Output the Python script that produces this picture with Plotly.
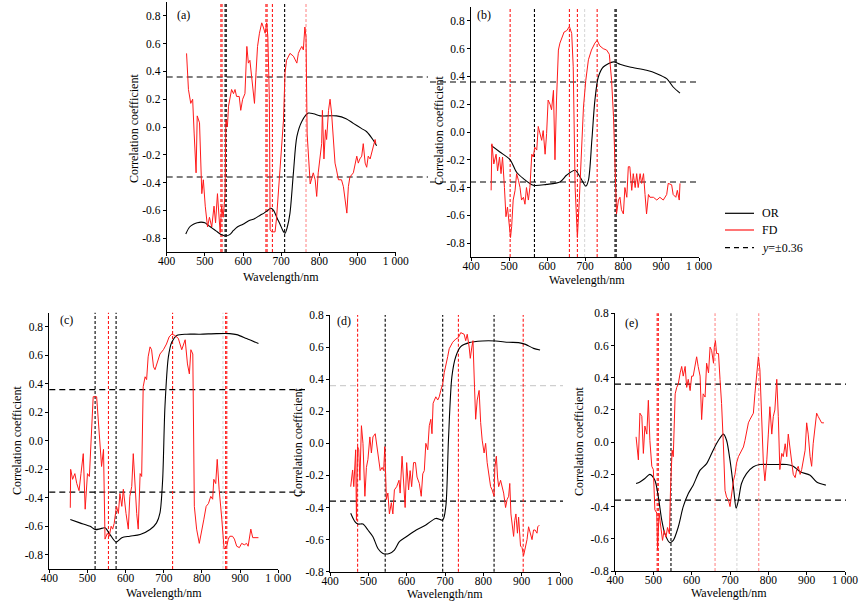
import plotly.graph_objects as go

# ---------------- data ----------------
threshold = 0.36
x_ticks = [400, 500, 600, 700, 800, 900, 1000]
x_ticktext = ["400", "500", "600", "700", "800", "900", "1 000"]
y_ticks = [-0.8, -0.6, -0.4, -0.2, 0.0, 0.2, 0.4, 0.6, 0.8]
y_ticktext = ["-0.8", "-0.6", "-0.4", "-0.2", "0.0", "0.2", "0.4", "0.6", "0.8"]
series_names = ["OR", "FD", "<i>y</i>=±0.36"]

# (a)
a_or_wl = [450, 460, 470, 480, 490, 500, 510, 520, 530, 540, 548, 555, 565, 575, 585, 600, 615, 630, 645, 655,
           665, 673, 680, 690, 697, 705, 710, 716, 723, 732, 741, 754, 771, 785, 802, 820, 845, 870, 889, 910,
           924, 940, 950]
a_or = [-0.77, -0.72, -0.70, -0.69, -0.685, -0.69, -0.71, -0.73, -0.75, -0.77, -0.78, -0.785, -0.775, -0.745,
        -0.72, -0.70, -0.675, -0.66, -0.635, -0.62, -0.60, -0.585, -0.60, -0.66, -0.70, -0.75, -0.765, -0.72,
        -0.62, -0.33, -0.07, 0.04, 0.10, 0.095, 0.08, 0.08, 0.08, 0.06, 0.026, -0.01, -0.034, -0.09, -0.135]
a_fd_wl = [452, 457, 463, 468, 472, 477, 480, 486, 492, 496, 501, 507, 512, 518, 524, 528, 533, 537, 540, 544,
           548, 553, 555, 559, 562, 570, 575, 579, 583, 590, 594, 599, 605, 610, 614, 618, 625, 630, 634, 638,
           643, 649, 653, 658, 662, 665, 669, 671, 675, 684, 688, 697, 706, 710, 714, 723, 732, 741, 745, 749,
           754, 758, 762, 765, 768, 776, 780, 784, 789, 793, 797, 802, 806, 808, 812, 816, 819, 824, 828, 832,
           837, 841, 845, 850, 858, 863, 872, 876, 880, 889, 898, 902, 906, 911, 915, 920, 924, 928, 933, 937,
           941, 946, 948]
a_fd = [0.53, 0.27, 0.17, 0.2, -0.05, -0.33, 0.08, 0.03, -0.48, -0.38,
        -0.57, -0.72, -0.65, -0.72, -0.57, -0.69, -0.48, -0.62, -0.76, -0.57,
        -0.65, -0.48, 0.05, 0.0, 0.15, 0.27, 0.24, 0.27, 0.22, 0.22,
        0.12, 0.2, 0.24, 0.58, 0.46, 0.48, 0.29, 0.17, 0.39, 0.58,
        0.675, 0.75, 0.72, 0.675, 0.75, 0.65, 0.2, -0.74, -0.755, -0.755,
        -0.65, -0.29, 0.05, 0.39, 0.48, 0.53, 0.51, 0.46, 0.53, 0.555,
        0.58, 0.555, 0.72, 0.65, -0.05, -0.41, -0.36, -0.33, -0.38, -0.5,
        -0.33, -0.21, -0.12, 0.12, -0.23, -0.02, -0.09, 0.12, 0.2, 0.1,
        -0.12, -0.26, -0.31, -0.38, -0.38, -0.43, -0.62, -0.43, -0.36, -0.33,
        -0.21, -0.26, -0.23, -0.21, -0.12, -0.26, -0.29, -0.21, -0.23, -0.19,
        -0.14, -0.09, -0.12]
a_red_bands = [542, 545, 660, 663, 677]
a_black_bands = [553, 556, 709]
a_pink_bands = [765]
a_gray_bands = []

# (b)
b_or_wl = [453, 476, 503, 520, 538, 564, 599, 634, 652, 674, 687, 702, 709, 718, 726, 735, 748, 775, 792, 818,
           862, 889, 915, 932, 950]
b_or = [-0.096, -0.144, -0.2, -0.29, -0.336, -0.384, -0.377, -0.36, -0.31, -0.276, -0.324, -0.39, -0.348,
        -0.06, 0.228, 0.396, 0.468, 0.505, 0.488, 0.468, 0.444, 0.42, 0.384, 0.324, 0.28]
b_fd_wl = [453, 455, 460, 466, 470, 475, 479, 483, 488, 492, 496, 500, 504, 507, 511, 516, 520, 525, 529, 533,
           538, 542, 546, 551, 555, 560, 564, 568, 573, 577, 582, 586, 590, 595, 599, 603, 608, 612, 617, 621,
           625, 630, 634, 639, 645, 652, 659, 665, 669, 674, 680, 685, 691, 696, 702, 709, 717, 726, 732, 739,
           748, 757, 764, 770, 775, 779, 783, 788, 792, 796, 801, 805, 810, 814, 818, 823, 827, 832, 836, 840,
           845, 849, 854, 858, 862, 867, 871, 880, 889, 897, 906, 915, 919, 928, 932, 939, 943, 948, 950]
b_fd = [-0.42, -0.085, -0.23, -0.16, -0.28, -0.18, -0.3, -0.18, -0.4, -0.61,
        -0.54, -0.64, -0.76, -0.68, -0.49, -0.42, -0.3, -0.35, -0.4, -0.49,
        -0.47, -0.52, -0.4, -0.49, -0.4, -0.16, -0.18, -0.11, -0.13, 0.04,
        -0.01, -0.06, 0.01, -0.16, -0.01, 0.23, 0.2, 0.16, 0.3, -0.2,
        0.23, 0.59, 0.64, 0.68, 0.72, 0.73, 0.76, 0.71, 0.47, -0.4,
        -0.76, -0.49, -0.13, 0.18, 0.37, 0.52, 0.59, 0.64, 0.66, 0.62,
        0.6, 0.59, 0.56, 0.37, 0.11, -0.25, -0.59, -0.49, -0.47, -0.56,
        -0.59, -0.4, -0.47, -0.25, -0.25, -0.42, -0.3, -0.4, -0.3, -0.4,
        -0.3, -0.37, -0.3, -0.45, -0.59, -0.45, -0.47, -0.47, -0.49, -0.47,
        -0.49, -0.45, -0.37, -0.38, -0.45, -0.47, -0.42, -0.49, -0.37]
b_red_bands = [503, 659, 680, 732]
b_black_bands = [567, 779, 782]
b_pink_bands = []
b_gray_bands = [699]

# (c)
c_or_wl = [455, 480, 507, 520, 533, 546, 559, 575, 590, 611, 638, 664, 681, 690, 697, 703, 712, 721, 734, 760,
           795, 838, 873, 891, 917, 948]
c_or = [-0.553, -0.576, -0.6, -0.623, -0.618, -0.611, -0.658, -0.711, -0.68, -0.67, -0.658, -0.623, -0.576,
        -0.506, -0.273, 0.24, 0.59, 0.695, 0.74, 0.749, 0.749, 0.753, 0.753, 0.746, 0.718, 0.683]
c_fd_wl = [455, 456, 461, 467, 472, 478, 483, 489, 494, 500, 505, 511, 515, 524, 528, 533, 537, 542, 546, 552,
           557, 562, 566, 570, 576, 581, 585, 590, 594, 601, 607, 611, 616, 620, 625, 629, 633, 638, 642, 646,
           651, 655, 659, 664, 668, 673, 677, 681, 686, 690, 699, 707, 714, 721, 729, 738, 747, 751, 756, 762,
           767, 771, 776, 780, 786, 793, 799, 805, 811, 817, 823, 828, 831, 836, 840, 845, 852, 858, 865, 869,
           873, 880, 885, 891, 898, 904, 911, 917, 921, 928, 933, 939, 948]
c_fd = [-0.47, -0.2, -0.27, -0.23, -0.3, -0.35, -0.23, -0.09, -0.48, -0.23,
        -0.25, 0.1, 0.31, 0.31, 0.17, 0.01, -0.18, -0.06, -0.69, -0.65,
        -0.67, -0.6, -0.62, -0.58, -0.46, -0.51, -0.37, -0.46, -0.34, -0.51,
        -0.62, -0.39, -0.32, -0.09, -0.37, -0.51, -0.62, -0.23, -0.25, 0.38,
        0.45, 0.43, 0.59, 0.66, 0.64, 0.52, 0.5, 0.54, 0.57, 0.61,
        0.64, 0.68, 0.73, 0.75, 0.74, 0.72, 0.64, 0.67, 0.71, 0.54,
        0.47, 0.64, 0.61, -0.46, -0.62, -0.72, -0.62, -0.55, -0.46, -0.44,
        -0.39, -0.41, -0.27, -0.3, -0.13, -0.34, -0.55, -0.76, -0.74, -0.69,
        -0.67, -0.67, -0.69, -0.74, -0.75, -0.72, -0.73, -0.72, -0.74, -0.62,
        -0.68, -0.68, -0.68]
c_red_bands = [555, 723, 862, 865]
c_black_bands = [520, 575]
c_pink_bands = []
c_gray_bands = [855]

# (d)
d_or_wl = [454, 465, 473, 486, 499, 512, 525, 538, 555, 568, 581, 599, 625, 650, 676, 694, 702, 709, 718, 728,
           741, 763, 797, 832, 866, 892, 910, 931, 948]
d_or = [-0.436, -0.488, -0.503, -0.503, -0.54, -0.582, -0.655, -0.686, -0.686, -0.665, -0.613, -0.582, -0.54,
        -0.509, -0.468, -0.478, -0.395, 0.021, 0.416, 0.54, 0.603, 0.628, 0.638, 0.638, 0.63, 0.628, 0.617,
        0.592, 0.582]
d_fd_wl = [454, 459, 462, 467, 469, 472, 475, 478, 482, 486, 491, 495, 499, 504, 508, 512, 518, 523, 527, 531,
           536, 540, 543, 547, 551, 555, 560, 564, 568, 574, 580, 583, 588, 592, 596, 600, 605, 609, 613, 618,
           623, 627, 633, 638, 642, 646, 650, 655, 659, 663, 666, 669, 673, 676, 681, 685, 689, 694, 698, 702,
           707, 711, 720, 728, 735, 741, 750, 754, 758, 763, 766, 770, 773, 777, 780, 784, 789, 793, 797, 802,
           806, 810, 815, 819, 823, 828, 830, 834, 837, 840, 845, 849, 853, 858, 862, 866, 869, 872, 875, 879,
           882, 885, 889, 892, 897, 901, 905, 910, 914, 918, 923, 927, 931, 935, 940, 942, 946]
d_fd = [-0.27, -0.166, -0.27, -0.04, -0.48, -0.02, -0.04, -0.23, 0.11, 0.0,
        -0.33, -0.15, -0.1, 0.04, -0.06, 0.04, 0.06, -0.02, -0.08, -0.17,
        -0.15, -0.17, -0.02, -0.35, -0.31, -0.44, -0.37, -0.44, -0.29, -0.27,
        -0.23, -0.31, -0.08, -0.21, -0.4, -0.12, -0.29, -0.17, -0.27, -0.12,
        -0.12, -0.21, -0.25, -0.33, -0.19, -0.17, 0.0, -0.04, 0.11, 0.15,
        0.06, 0.25, 0.27, 0.29, 0.27, 0.29, 0.33, 0.37, 0.44, 0.48,
        0.54, 0.59, 0.63, 0.65, 0.66, 0.69, 0.68, 0.64, 0.68, 0.6,
        0.53, 0.6, 0.64, 0.35, 0.15, 0.27, 0.33, 0.13, 0.02, -0.06,
        0.0, -0.12, -0.19, -0.27, -0.29, -0.33, -0.15, -0.08, -0.21, -0.27,
        -0.23, -0.27, -0.31, -0.4, -0.35, -0.33, -0.25, -0.44, -0.52, -0.58,
        -0.48, -0.44, -0.56, -0.46, -0.64, -0.65, -0.7, -0.64, -0.6, -0.52,
        -0.56, -0.6, -0.54, -0.54, -0.56, -0.52, -0.51]
d_red_bands = [472, 735, 904]
d_black_bands = [544, 694, 828]
d_pink_bands = []
d_gray_bands = []

# (e)
e_or_wl = [455, 465, 478, 491, 504, 513, 522, 530, 543, 552, 565, 578, 591, 604, 622, 639, 656, 670, 683, 691,
           700, 709, 716, 722, 730, 743, 761, 778, 813, 848, 865, 883, 909, 926, 950]
e_or = [-0.257, -0.247, -0.226, -0.2, -0.236, -0.34, -0.485, -0.568, -0.624, -0.61,
        -0.527, -0.4, -0.32, -0.267, -0.174, -0.133, -0.05, 0.012, 0.05, 0.012,
        -0.112, -0.278, -0.41, -0.36, -0.257, -0.195, -0.153, -0.139, -0.139, -0.139,
        -0.149, -0.184, -0.205, -0.247, -0.267]
e_fd_wl = [455, 461, 465, 470, 474, 478, 483, 487, 491, 496, 500, 504, 509, 511, 515, 519, 524, 528, 533, 537,
           542, 545, 549, 552, 557, 561, 565, 570, 574, 578, 583, 587, 591, 596, 600, 604, 609, 613, 617, 622,
           626, 630, 635, 639, 644, 648, 652, 657, 659, 662, 665, 670, 674, 678, 683, 687, 691, 696, 700, 704,
           709, 713, 717, 722, 726, 730, 735, 739, 744, 748, 752, 757, 761, 765, 770, 774, 778, 783, 787, 791,
           796, 800, 804, 809, 813, 817, 822, 826, 830, 835, 839, 844, 848, 852, 857, 861, 865, 870, 874, 878,
           883, 887, 891, 896, 900, 904, 909, 913, 917, 922, 926, 930, 935, 939, 945]
e_fd = [0.033, -0.11, 0.18, 0.16, -0.07, 0.1, 0.05, 0.26, 0.01, -0.15,
        -0.17, -0.42, -0.44, -0.67, -0.44, -0.53, -0.61, -0.55, -0.59, -0.53,
        -0.57, -0.28, -0.05, -0.09, 0.3, 0.34, 0.36, 0.43, 0.47, 0.41,
        0.47, 0.34, 0.39, 0.32, 0.41, 0.41, 0.49, 0.53, 0.47, 0.41,
        0.14, 0.3, 0.28, 0.49, 0.43, 0.59, 0.57, 0.49, 0.59, 0.63,
        0.55, 0.55, 0.39, 0.24, -0.03, -0.3, -0.34, -0.36, -0.4, -0.32,
        -0.24, -0.2, -0.13, -0.09, -0.07, -0.05, -0.03, 0.01, 0.07, 0.12,
        0.14, 0.16, 0.18, 0.3, 0.41, 0.53, 0.45, 0.16, -0.13, -0.24,
        -0.11, 0.05, 0.22, 0.05, 0.16, 0.2, 0.39, 0.16, -0.17, -0.07,
        -0.09, -0.01, -0.09, 0.05, -0.05, -0.11, -0.2, -0.22, -0.17, -0.15,
        -0.2, -0.17, -0.11, -0.05, 0.12, 0.05, -0.09, -0.15, -0.01, 0.12,
        0.18, 0.16, 0.14, 0.12, 0.12]
e_red_bands = [510, 513]
e_black_bands = [546]
e_pink_bands = [661, 775]
e_gray_bands = [718]

# ---------------- layout helpers ----------------
W, H = 866, 604
FONT = "Liberation Serif, Times New Roman, serif"
RED = "#ff1a1a"
HDASH = "6px,4px"
VDASH = "3px,2px"

panels = [
    dict(label="(a)", or_wl=a_or_wl, or_r=a_or, fd_wl=a_fd_wl, fd_r=a_fd,
         red=a_red_bands, black=a_black_bands, pink=a_pink_bands, gray=a_gray_bands,
         px=(166.7, 395.7), py=(2, 252), yr=(-0.9, 0.9), hx=(166.7, 428), lab=(0.036, 0.948),
         upper="black", xt=(281, 277), yt=(134, 129)),
    dict(label="(b)", or_wl=b_or_wl, or_r=b_or, fd_wl=b_fd_wl, fd_r=b_fd,
         red=b_red_bands, black=b_black_bands, pink=b_pink_bands, gray=b_gray_bands,
         px=(471, 699), py=(7, 257), yr=(-0.9, 0.9), hx=(430, 700), lab=(0.018, 0.968),
         upper="black", xt=(587, 280), yt=(439, 131)),
    dict(label="(c)", or_wl=c_or_wl, or_r=c_or, fd_wl=c_fd_wl, fd_r=c_fd,
         red=c_red_bands, black=c_black_bands, pink=c_pink_bands, gray=c_gray_bands,
         px=(49.3, 278.3), py=(312.7, 569), yr=(-0.9, 0.9), hx=(49.3, 305), lab=(0.038, 0.97),
         upper="black", xt=(164, 593), yt=(17, 441)),
    dict(label="(d)", or_wl=d_or_wl, or_r=d_or, fd_wl=d_fd_wl, fd_r=d_fd,
         red=d_red_bands, black=d_black_bands, pink=d_pink_bands, gray=d_gray_bands,
         px=(330, 560), py=(315, 571.7), yr=(-0.8, 0.8), hx=(330, 563), lab=(0.022, 0.978),
         upper="#cfcfcf", xt=(445, 594), yt=(298, 443)),
    dict(label="(e)", or_wl=e_or_wl, or_r=e_or, fd_wl=e_fd_wl, fd_r=e_fd,
         red=e_red_bands, black=e_black_bands, pink=e_pink_bands, gray=e_gray_bands,
         px=(615, 845), py=(313.3, 571), yr=(-0.8, 0.8), hx=(615, 846), lab=(0.035, 0.964),
         upper="black", xt=(729, 593), yt=(579, 442)),
]

fig = go.Figure()
shapes = []
annotations = []
layout_axes = {}
txt_font = dict(family=FONT, size=12, color="black")

for i, p in enumerate(panels):
    n = "" if i == 0 else str(i + 1)
    xa, ya = "x" + n, "y" + n
    # threshold lines
    for yv, col in ((threshold, p["upper"]), (-threshold, "black")):
        shapes.append(dict(type="line", xref="paper", yref=ya, x0=p["hx"][0] / W, x1=p["hx"][1] / W,
                           y0=yv, y1=yv, line=dict(color=col, width=1.1, dash=HDASH), layer="below"))
    # band lines
    for group, col in ((p["gray"], "#d9d9d9"), (p["pink"], "#ff8c8c"), (p["black"], "black"), (p["red"], RED)):
        for wl in group:
            shapes.append(dict(type="line", xref=xa, yref=ya + " domain", x0=wl, x1=wl, y0=0, y1=1,
                               line=dict(color=col, width=1.1, dash=VDASH), layer="below"))
    fig.add_trace(go.Scatter(x=p["or_wl"], y=p["or_r"], mode="lines", name=series_names[0],
                             line=dict(color="black", width=1.1, shape="spline", smoothing=0.8),
                             xaxis=xa, yaxis=ya, showlegend=False))
    fig.add_trace(go.Scatter(x=p["fd_wl"], y=p["fd_r"], mode="lines", name=series_names[1],
                             line=dict(color=RED, width=1.0),
                             xaxis=xa, yaxis=ya, showlegend=False))
    annotations.append(dict(text=p["label"], xref=xa + " domain", yref=ya + " domain",
                            x=p["lab"][0], y=p["lab"][1], xanchor="left", yanchor="middle",
                            showarrow=False, font=txt_font))
    annotations.append(dict(text="Wavelength/nm", xref="paper", yref="paper",
                            x=p["xt"][0] / W, y=1 - p["xt"][1] / H, xanchor="center", yanchor="middle",
                            showarrow=False, font=txt_font))
    annotations.append(dict(text="Correlation coefficient", xref="paper", yref="paper", textangle=-90,
                            x=p["yt"][0] / W, y=1 - p["yt"][1] / H, xanchor="center", yanchor="middle",
                            showarrow=False, font=txt_font))
    common = dict(showline=True, linecolor="black", linewidth=1, ticks="outside", ticklen=3,
                  tickcolor="black", showgrid=False, zeroline=False, automargin=False,
                  tickfont=dict(family=FONT, size=11.5, color="black"))
    layout_axes["xaxis" + n] = dict(domain=[p["px"][0] / W, p["px"][1] / W], anchor=ya, range=[400, 1000],
                                    tickvals=x_ticks, ticktext=x_ticktext, ticklabelstandoff=-5, **common)
    layout_axes["yaxis" + n] = dict(domain=[1 - p["py"][1] / H, 1 - p["py"][0] / H], anchor=xa,
                                    range=list(p["yr"]), tickvals=y_ticks, ticktext=y_ticktext, **common)

# manual legend (right of panel b)
legend_rows = [(213.3, "black", None), (230.0, RED, None), (247.7, "black", "5px,4px")]
for (yy, col, dash), name in zip(legend_rows, series_names):
    shapes.append(dict(type="line", xref="paper", yref="paper", x0=725 / W, x1=754 / W,
                       y0=1 - yy / H, y1=1 - yy / H, line=dict(color=col, width=1.2, dash=dash)))
    annotations.append(dict(text=name, xref="paper", yref="paper", x=760 / W, y=1 - yy / H,
                            xanchor="left", yanchor="middle", showarrow=False, font=txt_font))

fig.update_layout(
    width=W, height=H,
    margin=dict(l=0, r=0, t=0, b=0, autoexpand=False),
    paper_bgcolor="white", plot_bgcolor="white",
    showlegend=False,
    shapes=shapes, annotations=annotations,
    **layout_axes,
)

fig.write_html("out.html", config={"displayModeBar": False},
               post_script="document.body.style.margin='0px';document.body.style.padding='0px';")
